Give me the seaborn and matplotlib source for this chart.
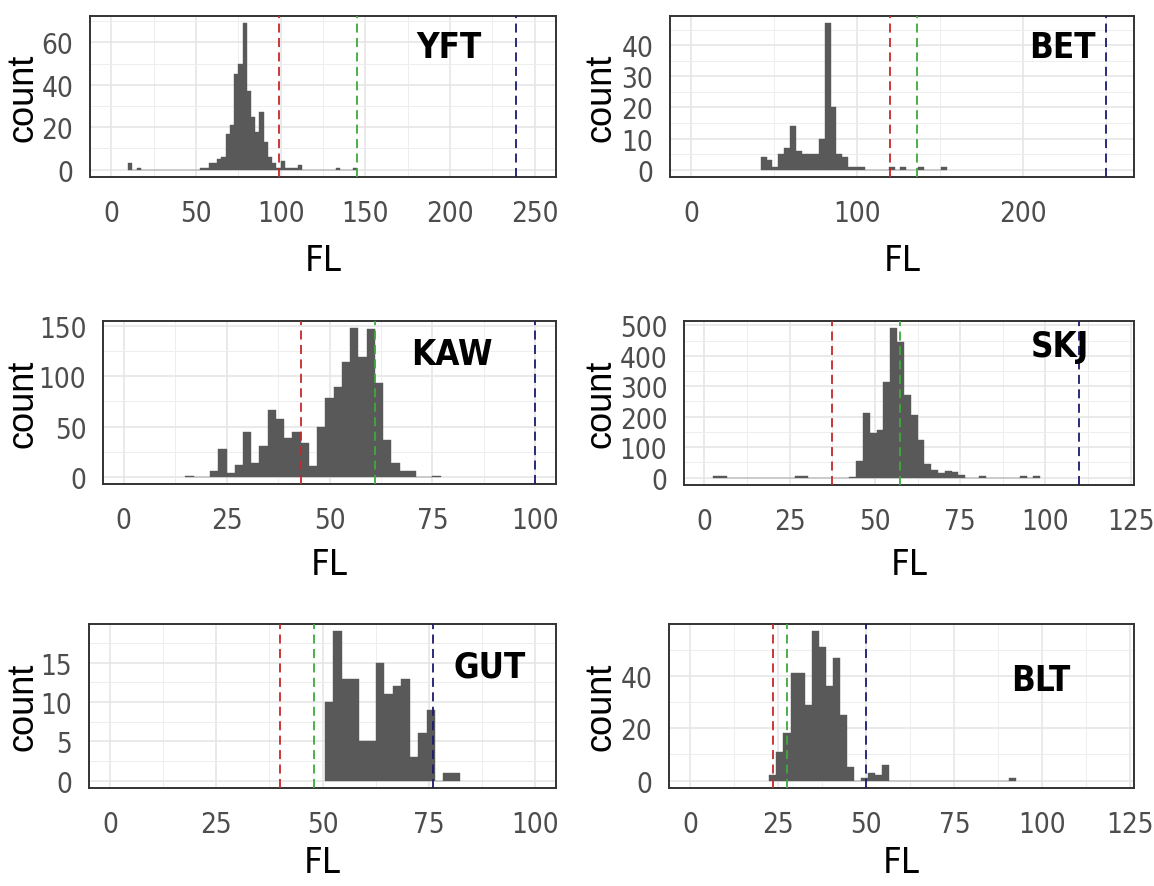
import numpy as np
import pandas as pd
import matplotlib
matplotlib.use("Agg")
import matplotlib.pyplot as plt
from matplotlib import font_manager as fm
from matplotlib.ticker import MultipleLocator
import seaborn as sns

# ---- data: centre of each non-empty FL bin and its count ----
yft_fl = [11.25, 16.25, 53.75, 56.25, 58.75, 61.25, 63.75, 66.25, 68.75, 71.25,
          73.75, 76.25, 78.75, 81.25, 83.75, 86.25, 88.75, 91.25, 93.75, 96.25,
          98.75, 101.25, 103.75, 106.25, 108.75, 111.25, 133.75, 143.75]
yft_n = [3, 1, 1, 1, 3, 3, 5, 6, 17, 21,
         45, 50, 69, 37, 25, 18, 27, 13, 6, 3,
         1, 4, 1, 1, 1, 2, 1, 1]

bet_fl = [43.75, 47.25, 50.75, 54.25, 57.75, 61.25, 64.75, 68.25, 71.75, 75.25,
          78.75, 82.25, 85.75, 89.25, 92.75, 96.25, 99.75, 103.25, 120.75, 127.75,
          138.25, 152.25]
bet_n = [4, 3, 1, 5, 7, 14, 6, 5, 5, 5,
         10, 47, 20, 5, 4, 1, 1, 1, 1, 1,
         1, 1]

kaw_fl = [16, 22, 24, 26, 28, 30, 32, 34, 36, 38, 40, 42, 44, 46, 48, 50,
          52, 54, 56, 58, 60, 62, 64, 66, 68, 70, 76]
kaw_n = [1, 6, 28, 4, 12, 45, 14, 31, 67, 58, 39, 45, 34, 11, 50, 78,
         89, 114, 148, 119, 147, 93, 37, 14, 6, 6, 1]

skj_fl = [3.5, 5.5, 27.5, 29.5, 43.5, 45.5, 47.5, 49.5, 51.5, 53.5, 55.5, 57.5,
          59.5, 61.5, 63.5, 65.5, 67.5, 69.5, 71.5, 73.5, 75.5, 81.5, 93.5, 97.5]
skj_n = [5, 5, 5, 5, 3, 55, 213, 148, 157, 314, 490, 445,
         270, 204, 125, 46, 26, 15, 23, 17, 9, 5, 4, 4]

gut_fl = [51.5, 53.5, 55.5, 57.5, 59.5, 61.5, 63.5, 65.5, 67.5, 69.5, 71.5,
          73.5, 75.5, 79.5, 81.5]
gut_n = [10, 19, 13, 13, 5, 5, 15, 11, 12, 13, 3, 6, 9, 1, 1]

blt_fl = [23.5, 25.5, 27.5, 29.5, 31.5, 33.5, 35.5, 37.5, 39.5, 41.5, 43.5,
          45.5, 49.5, 51.5, 53.5, 55.5, 91.5]
blt_n = [2, 11, 18, 41, 41, 29, 57, 51, 36, 47, 25, 5, 1, 3, 2, 6, 1]

bin_widths = [2.5, 3.5, 2, 2, 2, 2]

# reference lengths (red, green, blue dashed lines)
yft_lines = [99, 145, 239]
bet_lines = [120, 136, 250]
kaw_lines = [43, 61, 100]
skj_lines = [37.5, 57.5, 110]
gut_lines = [40, 48, 76]
blt_lines = [23.5, 27.5, 50]

# axis ranges and ticks
x_ranges = [(0, 250), (0, 254), (0, 100), (0, 120), (0, 100), (0, 120)]
x_ticks = [[0, 50, 100, 150, 200, 250], [0, 100, 200], [0, 25, 50, 75, 100],
           [0, 25, 50, 75, 100, 125], [0, 25, 50, 75, 100], [0, 25, 50, 75, 100, 125]]
y_ticks = [[0, 20, 40, 60], [0, 10, 20, 30, 40], [0, 50, 100, 150],
           [0, 100, 200, 300, 400, 500], [0, 5, 10, 15], [0, 20, 40]]

species = ["YFT", "BET", "KAW", "SKJ", "GUT", "BLT"]
fls = [yft_fl, bet_fl, kaw_fl, skj_fl, gut_fl, blt_fl]
counts = [yft_n, bet_n, kaw_n, skj_n, gut_n, blt_n]
vlines = [yft_lines, bet_lines, kaw_lines, skj_lines, gut_lines, blt_lines]

# ---- layout (pixel boxes: left, top, right, bottom) ----
W, H = 1154, 887
boxes = [(90, 17, 556, 178), (670, 17, 1134, 178),
         (103, 322, 556, 485), (684, 322, 1134, 486),
         (89, 625, 556, 789), (669, 625, 1134, 789)]
label_pos = [(0.77, 0.81), (0.845, 0.81), (0.77, 0.80),
             (0.836, 0.85), (0.857, 0.74), (0.80, 0.66)]
line_colors = ["#C62828", "#3DAA3D", "#1A1A70"]

sns.set_style("white")
plt.rcParams['font.family'] = ['Liberation Sans', 'DejaVu Sans']

# the reference text is narrow: use a condensed face if one is installed
narrow = [f for f in fm.fontManager.ttflist
          if any(k in f.fname for k in ('Narrow', 'Condensed', 'Cond'))
          and not any(k in f.fname for k in ('Italic', 'Oblique', 'Light', 'Thin', 'Black'))]
reg_file = next((f.fname for f in narrow if 'Bold' not in f.fname), None)
bold_file = next((f.fname for f in narrow if 'Bold' in f.fname), None)


def font(size, bold=False):
    path = bold_file if bold else reg_file
    if path:
        return fm.FontProperties(fname=path, size=size)
    return fm.FontProperties(family=['Liberation Sans', 'DejaVu Sans'], size=size,
                             weight='bold' if bold else 'normal')


tick_size = 20 if reg_file else 17
fig = plt.figure(figsize=(W / 100, H / 100), dpi=100)

for i, name in enumerate(species):
    l, t, r, b = boxes[i]
    ax = fig.add_axes([l / W, 1 - b / H, (r - l) / W, (b - t) / H])

    w = bin_widths[i]
    df = pd.DataFrame({"FL": fls[i], "n": counts[i]})
    start = min(fls[i]) - w / 2
    stop = max(fls[i]) + w / 2
    sns.histplot(data=df, x="FL", weights="n", binwidth=w, binrange=(start, stop),
                 color="#595959", alpha=1, edgecolor="#595959", linewidth=0.3,
                 ax=ax, zorder=2)

    for xv, c in zip(vlines[i], line_colors):
        ax.axvline(xv, color=c, ls=(0, (5, 3)), lw=1.3, zorder=3)

    lo, hi = x_ranges[i]
    pad = 0.05 * (hi - lo)
    ax.set_xlim(lo - pad, hi + pad)
    m = max(counts[i])
    ax.set_ylim(-0.05 * m, 1.05 * m)

    xt, yt = x_ticks[i], y_ticks[i]
    ax.set_xticks(xt)
    ax.set_yticks(yt)
    ax.xaxis.set_minor_locator(MultipleLocator((xt[1] - xt[0]) / 2))
    ax.yaxis.set_minor_locator(MultipleLocator((yt[1] - yt[0]) / 2))
    ax.set_axisbelow(True)
    ax.grid(which='major', color='#E6E6E6', lw=1.2)
    ax.grid(which='minor', color='#EEEEEE', lw=0.7)

    ax.tick_params(which='major', length=6, width=1.3, color='#333333',
                   labelcolor='#4D4D4D')
    ax.tick_params(axis='x', which='major', pad=10)
    ax.tick_params(axis='y', which='major', pad=6)
    ax.tick_params(which='minor', length=0)
    for lbl in ax.get_xticklabels() + ax.get_yticklabels():
        lbl.set_fontproperties(font(tick_size))
    for sp in ax.spines.values():
        sp.set_color('#333333')
        sp.set_linewidth(1.4)

    ax.set_xlabel("FL", fontproperties=font(26 if reg_file else 23), color='black')
    ax.set_ylabel("count", fontsize=26, color='black')
    col_x = 40 if i % 2 == 0 else 619
    ax.yaxis.set_label_coords((col_x - l) / (r - l), 0.5)
    fl_top = [244, 244, 548, 548, 846, 846][i]
    ax.xaxis.set_label_coords(0.5, (b - fl_top) / (b - t))

    lx, ly = label_pos[i]
    ax.text(lx, ly, name, transform=ax.transAxes, ha='center', va='center',
            fontproperties=font(25 if bold_file else 23, bold=True), color='black')

fig.savefig("out.png", dpi=100)
